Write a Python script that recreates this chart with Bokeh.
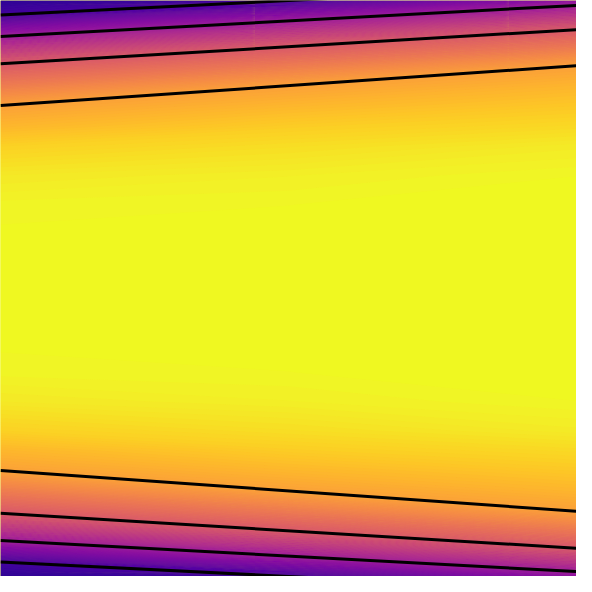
import numpy as np
from bokeh.plotting import figure
from bokeh.models import Range1d
from bokeh.palettes import Plasma256
from bokeh.embed import file_html
from bokeh.resources import INLINE

# grid columns (left edge, middle, right edge) and rows, top to bottom
x_cols = [0, 296, 592]
y_rows = [0, 5, 15, 21, 30, 37, 47, 65, 67, 87, 108, 130, 150, 180, 210, 250, 296,
          342, 382, 412, 442, 462, 484, 505, 525, 527, 545, 555, 562, 571, 577, 587, 592]

# field values (0 = dark purple, 1 = yellow)
z_left = [0.06, 0.077, 0.11, 0.171, 0.263, 0.335, 0.415, 0.56, 0.571, 0.675, 0.785, 0.846,
          0.91, 0.965, 0.992, 1.0, 1.0,
          1.0, 0.992, 0.965, 0.91, 0.846, 0.785, 0.675, 0.571, 0.56, 0.415, 0.335, 0.263,
          0.171, 0.11, 0.077, 0.06]
z_mid = [0.105, 0.16, 0.269, 0.335, 0.413, 0.474, 0.56, 0.661, 0.673, 0.785, 0.843, 0.9,
         0.94, 0.98, 0.996, 1.0, 1.0,
         1.0, 0.996, 0.98, 0.94, 0.9, 0.843, 0.785, 0.673, 0.661, 0.56, 0.474, 0.413,
         0.335, 0.269, 0.16, 0.105]
z_right = [0.28, 0.335, 0.425, 0.479, 0.56, 0.603, 0.663, 0.773, 0.785, 0.839, 0.886, 0.93,
           0.97, 0.996, 1.0, 1.0, 1.0,
           1.0, 1.0, 0.996, 0.97, 0.93, 0.886, 0.839, 0.785, 0.773, 0.663, 0.603,
           0.56, 0.479, 0.425, 0.335, 0.28]

# contour lines: where each crosses the left and right edge
line_y_left = [15, 37, 65, 108, 483, 527, 555, 577]
line_y_right = [-15, 5, 30, 67, 525, 563, 587, 607]

z = np.column_stack([z_left, z_mid, z_right])

p = figure(width=576, height=576, output_backend="svg", toolbar_location=None,
           x_range=Range1d(0, 592), y_range=Range1d(592, 0),
           min_border=0, x_axis_location=None, y_axis_location=None)
p.grid.visible = False
p.outline_line_color = None
p.background_fill_color = "#f0f921"

# smooth plasma shading: two filled layers offset by half a band hide the seams
n = 128
step = 1.0 / n
for shift in (0.0, 0.5 * step):
    levels = np.linspace(shift, 1 + shift, n + 1)
    levels[-1] = 1.02
    colors = [Plasma256[min(255, int(255 * (lv + 0.5 * step)))] for lv in levels[:-1]]
    p.contour(x=x_cols, y=y_rows, z=z, levels=levels, fill_color=colors, line_color=None)

p.segment(x0=x_cols[0], y0=line_y_left, x1=x_cols[-1], y1=line_y_right,
          line_color="black", line_width=3)

open("out.html", "w").write(file_html(p, INLINE))
